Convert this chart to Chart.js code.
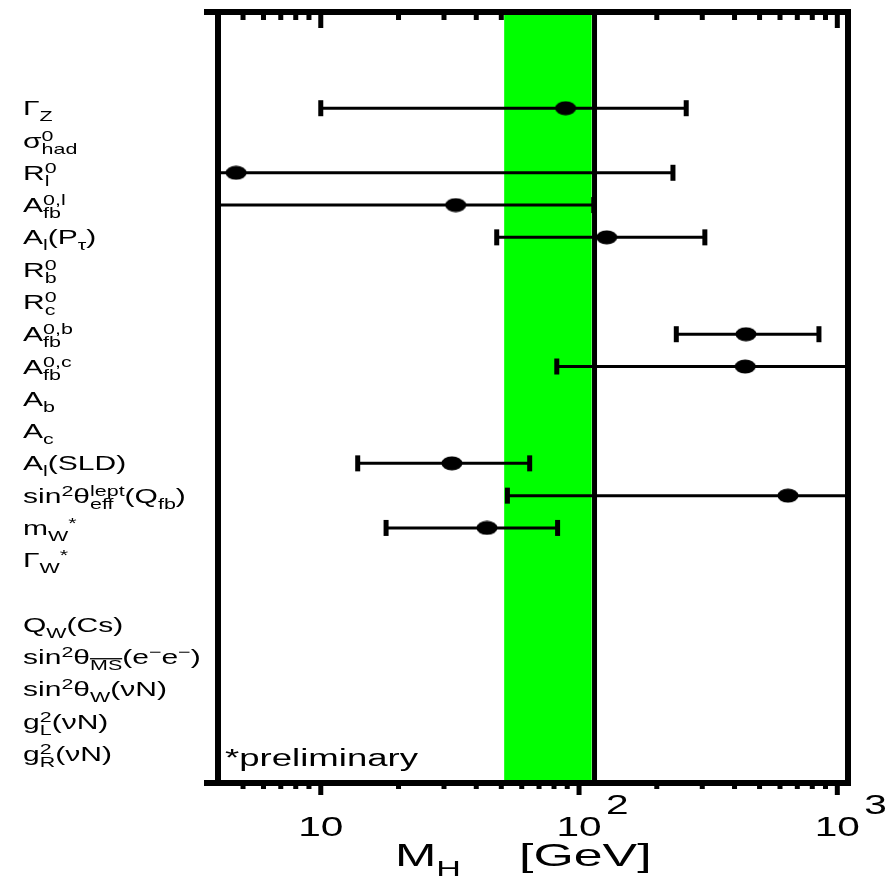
<!DOCTYPE html>
<html>
<head>
<meta charset="utf-8">
<script src="https://cdn.jsdelivr.net/npm/chart.js@4.4.1/dist/chart.umd.min.js"></script>
<style>
  html, body { margin: 0; padding: 0; background: #fff; }
  #wrap { width: 887px; height: 876px; }
</style>
</head>
<body>
<div id="wrap"><canvas id="mhChart" width="887" height="876"></canvas></div>
<script>
'use strict';

// Row labels (top to bottom); ^{} superscript, _{} subscript, _{=..} overlined subscript
const rowLabels = [
    'Γ_{Z}',
    'σ^{0}_{had}',
    'R^{0}_{l}',
    'A^{0,l}_{fb}',
    'A_{l}(P_{τ})',
    'R^{0}_{b}',
    'R^{0}_{c}',
    'A^{0,b}_{fb}',
    'A^{0,c}_{fb}',
    'A_{b}',
    'A_{c}',
    'A_{l}(SLD)',
    'sin^{2}θ^{lept}_{eff}(Q_{fb})',
    'm_{W}^{*}',
    'Γ_{W}^{*}',
    '',
    'Q_{W}(Cs)',
    'sin^{2}θ_{=MS}(e^{−}e^{−})',
    'sin^{2}θ_{W}(νN)',
    'g^{2}_{L}(νN)',
    'g^{2}_{R}(νN)'
];

// Measurements that have an M_H determination (GeV)
const measRows  = [0, 2, 3, 4, 7, 8, 11, 12, 13];
const measMH    = [88.7, 4.7, 33.3, 128, 443, 440, 32.2, 644, 44];
const measLow   = [10.0, 1, 1, 48, 238, 82, 13.9, 52.8, 17.9];
const measHigh  = [260, 231, 114, 307, 849, 3000, 64.4, 3000, 82.6];

// Fit band and limit line (GeV)
const bandLow = 51.3;
const bandHigh = 111.9;
const limitLine = 114.8;

// Axis ticks
const majorTicks = [10, 100, 1000];
const minorTicks = [5, 6, 7, 8, 9, 20, 30, 40, 50, 60, 70, 80, 90, 200, 300, 400, 500, 600, 700, 800, 900];
const tickBase = ['10', '10', '10'];
const tickExp = ['', '2', '3'];

const FONT = '"Liberation Sans", Arial, sans-serif';

function parseMarkup(s) {
    const out = [];
    let buf = '';
    let i = 0;
    while (i < s.length) {
        const c = s[i];
        if ((c === '^' || c === '_') && s[i + 1] === '{') {
            if (buf) { out.push({ kind: 'n', text: buf }); buf = ''; }
            const end = s.indexOf('}', i);
            let text = s.slice(i + 2, end);
            let over = false;
            if (text[0] === '=') { over = true; text = text.slice(1); }
            out.push({ kind: c === '^' ? 'sup' : 'sub', text, over });
            i = end + 1;
        } else {
            buf += c;
            i++;
        }
    }
    if (buf) out.push({ kind: 'n', text: buf });
    return out;
}

function drawRich(ctx, markup, x0, base, opts) {
    const toks = parseMarkup(markup);
    ctx.save();
    ctx.translate(x0, base);
    ctx.scale(opts.stretch, 1);
    ctx.fillStyle = '#000';
    ctx.textBaseline = 'alphabetic';
    ctx.textAlign = 'left';
    const big = opts.size + 'px ' + FONT;
    const small = opts.small + 'px ' + FONT;
    let cx = 0;
    const put = (tok, dy) => {
        ctx.fillText(tok.text, cx, dy);
        const w = ctx.measureText(tok.text).width;
        if (tok.over) {
            ctx.fillRect(cx, dy - opts.small * 0.8, w, 1.3);
        }
        return w;
    };
    for (let k = 0; k < toks.length; k++) {
        const t = toks[k];
        if (t.kind === 'n') {
            ctx.font = big;
            cx += put(t, 0);
        } else if (t.kind === 'sup' && toks[k + 1] && toks[k + 1].kind === 'sub') {
            ctx.font = small;
            const w1 = put(t, opts.supDy);
            const w2 = put(toks[k + 1], opts.subDy);
            cx += Math.max(w1, w2);
            k++;
        } else {
            ctx.font = small;
            cx += put(t, t.kind === 'sup' ? opts.supDy : opts.subDy);
        }
    }
    ctx.restore();
}

function makeDot() {
    const c = document.createElement('canvas');
    c.width = 22;
    c.height = 15;
    const g = c.getContext('2d');
    g.fillStyle = '#000';
    g.beginPath();
    g.ellipse(11, 7.5, 10.5, 7, 0, 0, Math.PI * 2);
    g.fill();
    return c;
}

const hepPlot = {
    id: 'hepPlot',
    beforeDatasetsDraw(chart) {
        const { ctx, chartArea: a, scales: { x, y } } = chart;
        ctx.save();
        ctx.fillStyle = '#000';

        // tick marks: inside at the top, outside at the bottom
        minorTicks.forEach(v => {
            const px = x.getPixelForValue(v);
            ctx.fillRect(px - 2.5, a.top, 5, 8);
            ctx.fillRect(px - 2.5, a.bottom, 5, 6);
        });
        majorTicks.forEach(v => {
            const px = x.getPixelForValue(v);
            ctx.fillRect(px - 2.5, a.top, 5, 16);
            ctx.fillRect(px - 2.5, a.bottom, 5, 12);
        });

        // fit band and limit line
        const b0 = x.getPixelForValue(bandLow);
        const b1 = x.getPixelForValue(bandHigh);
        ctx.fillStyle = '#00ff00';
        ctx.fillRect(b0, a.top, b1 - b0, a.bottom - a.top);
        ctx.fillStyle = '#000';
        const lp = x.getPixelForValue(limitLine);
        ctx.fillRect(lp - 2.5, a.top, 5, a.bottom - a.top);

        // error bars
        ctx.save();
        ctx.beginPath();
        ctx.rect(a.left, a.top, a.right - a.left, a.bottom - a.top);
        ctx.clip();
        ctx.strokeStyle = '#000';
        ctx.lineWidth = 3;
        measRows.forEach((row, i) => {
            const py = y.getPixelForValue(row);
            const xl = x.getPixelForValue(measLow[i]);
            const xh = x.getPixelForValue(measHigh[i]);
            ctx.beginPath();
            ctx.moveTo(xl, py);
            ctx.lineTo(xh, py);
            ctx.stroke();
            [measLow[i], measHigh[i]].forEach(v => {
                if (v >= x.min && v <= x.max) {
                    ctx.fillRect(x.getPixelForValue(v) - 2.5, py - 8, 5, 16);
                }
            });
        });
        ctx.restore();

        // frame
        ctx.fillRect(a.left - 3, a.top - 3, 6, a.bottom - a.top + 6);
        ctx.fillRect(a.right - 3, a.top - 3, 6, a.bottom - a.top + 6);
        ctx.fillRect(a.left - 14, a.top - 3, a.right - a.left + 17, 6);
        ctx.fillRect(a.left - 14, a.bottom - 3, a.right - a.left + 17, 6);
        ctx.restore();
    },
    afterDraw(chart) {
        const { ctx, chartArea: a, scales: { x, y } } = chart;
        const labelOpts = { size: 21, small: 15, stretch: 1.43, supDy: -7, subDy: 6 };
        rowLabels.forEach((lab, i) => {
            if (lab) drawRich(ctx, lab, 23, y.getPixelForValue(i) + 7, labelOpts);
        });

        drawRich(ctx, '*preliminary', a.left + 7, a.bottom - 17,
            { size: 23, small: 15, stretch: 1.59, supDy: 0, subDy: 0 });

        // x tick labels
        ctx.save();
        ctx.fillStyle = '#000';
        majorTicks.forEach((v, i) => {
            const px = x.getPixelForValue(v);
            const sx = 1.45;
            ctx.save();
            ctx.translate(px, 836);
            ctx.scale(sx, 1);
            ctx.font = '28px ' + FONT;
            ctx.textAlign = 'center';
            ctx.fillText(tickBase[i], 0, 0);
            const w = ctx.measureText(tickBase[i]).width;
            if (tickExp[i]) {
                ctx.textAlign = 'left';
                ctx.fillText(tickExp[i], w / 2 + 3, -22);
            }
            ctx.restore();
        });
        ctx.restore();

        // axis title
        drawRich(ctx, 'M_{H}', 395, 866, { size: 32, small: 22, stretch: 1.55, supDy: 0, subDy: 10 });
        drawRich(ctx, '[GeV]', 519, 866, { size: 32, small: 22, stretch: 1.62, supDy: 0, subDy: 0 });
    }
};

const points = measRows.map((row, i) => ({ x: measMH[i], y: row }));

new Chart(document.getElementById('mhChart'), {
    type: 'scatter',
    data: {
        datasets: [{
            data: points,
            pointStyle: makeDot(),
            pointRadius: 10,
            backgroundColor: '#000',
            borderColor: '#000'
        }]
    },
    options: {
        responsive: false,
        animation: false,
        events: [],
        layout: { padding: { left: 218, right: 39, top: 12, bottom: 93 } },
        scales: {
            x: { type: 'logarithmic', min: 4, max: 1100, display: false },
            y: { type: 'linear', min: -2.98, max: 20.9, reverse: true, display: false }
        },
        plugins: {
            legend: { display: false },
            tooltip: { enabled: false }
        }
    },
    plugins: [hepPlot]
});
</script>
</body>
</html>
